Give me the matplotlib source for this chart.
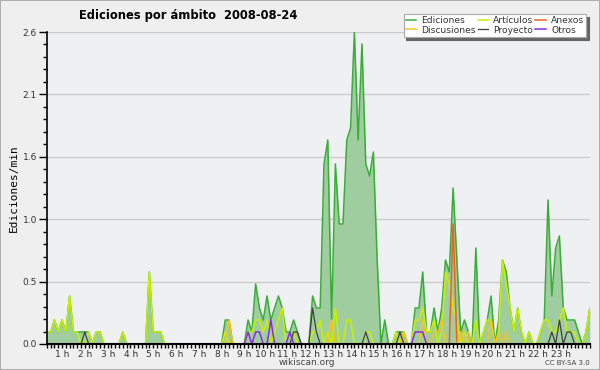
import numpy as np
import matplotlib
matplotlib.use('Agg')
import matplotlib.pyplot as plt
from matplotlib.patches import Rectangle

# edits per minute, one value per 10-minute slot (144 slots)
ediciones = [
    .1, .1, .2, .1, .2, .1, .4, .1, .1, .1, .1, .1,
    0, .1, .1, 0, 0, 0, 0, 0, .1, 0, 0, 0,
    0, 0, 0, .6, .1, .1, .1, 0, 0, 0, 0, 0,
    0, 0, 0, 0, 0, 0, 0, 0, 0, 0, 0, .2,
    .2, 0, 0, 0, 0, .2, .1, .5, .3, .2, .4, .2,
    .3, .4, .3, .1, .1, .2, .1, 0, 0, 0, .4, .3,
    .3, 1.5, 1.7, .2, 1.5, 1.0, 1.0, 1.7, 1.8, 2.6, 1.7, 2.5,
    1.5, 1.4, 1.6, .7, 0, .2, 0, 0, .1, .1, .1, 0,
    0, .3, .3, .6, .1, .1, .3, .1, .3, .7, .6, 1.3,
    .7, .1, .2, .1, 0, .8, 0, .1, .2, .4, 0, .2,
    .7, .6, .3, .1, .3, .1, 0, .1, 0, 0, .1, .2,
    1.2, .4, .8, .9, .3, .2, .2, .2, .1, 0, .1, .3]

articulos = [
    .1, .1, .2, .1, .2, .1, .4, .1, .1, 0, 0, .1,
    0, .1, .1, 0, 0, 0, 0, 0, .1, 0, 0, 0,
    0, 0, 0, .6, .1, .1, .1, 0, 0, 0, 0, 0,
    0, 0, 0, 0, 0, 0, 0, 0, 0, 0, 0, .1,
    0, 0, 0, 0, 0, .1, .1, .2, .2, .1, .2, 0,
    .1, .2, .3, 0, 0, .1, 0, 0, 0, 0, .1, .1,
    .2, 0, .1, 0, .3, 0, 0, .2, .2, 0, 0, 0,
    .1, .1, 0, 0, 0, 0, 0, 0, .1, 0, .1, 0,
    0, .2, .2, .3, .1, .1, .2, 0, .1, .6, .5, .3,
    .2, 0, .1, 0, 0, .2, 0, .1, .2, .2, 0, .1,
    .7, .5, .3, .1, .3, .1, 0, .1, 0, 0, .1, .2,
    .2, .1, .1, .2, .3, .1, .1, .1, 0, 0, .1, .3]

anexos = [0] * 144
anexos[107] = 1.0

discusiones = [
    0, 0, 0, 0, 0, 0, 0, 0, 0, 0, 0, 0,
    0, 0, 0, 0, 0, 0, 0, 0, 0, 0, 0, 0,
    0, 0, 0, 0, 0, 0, 0, 0, 0, 0, 0, 0,
    0, 0, 0, 0, 0, 0, 0, 0, 0, 0, 0, 0,
    .2, 0, 0, 0, 0, 0, 0, 0, 0, 0, 0, 0,
    0, 0, 0, 0, 0, 0, 0, 0, 0, 0, 0, 0,
    0, 0, 0, .2, 0, 0, 0, 0, 0, 0, 0, 0,
    0, 0, 0, 0, 0, 0, 0, 0, 0, 0, .1, 0,
    0, 0, 0, .2, 0, 0, .1, .1, .2, 0, 0, 0,
    0, .1, 0, .1, 0, 0, 0, 0, 0, .2, 0, .1,
    0, .1, 0, 0, 0, 0, 0, 0, 0, 0, 0, 0,
    0, 0, 0, 0, 0, 0, 0, 0, 0, 0, 0, 0]

proyecto = [
    0, 0, 0, 0, 0, 0, 0, 0, 0, 0, .1, 0,
    0, 0, 0, 0, 0, 0, 0, 0, 0, 0, 0, 0,
    0, 0, 0, 0, 0, 0, 0, 0, 0, 0, 0, 0,
    0, 0, 0, 0, 0, 0, 0, 0, 0, 0, 0, 0,
    0, 0, 0, 0, 0, 0, 0, 0, 0, 0, 0, 0,
    0, 0, 0, 0, 0, .1, .1, 0, 0, 0, .3, .1,
    0, 0, 0, 0, 0, 0, 0, 0, 0, 0, 0, 0,
    .1, 0, 0, 0, 0, 0, 0, 0, 0, .1, 0, 0,
    0, 0, 0, 0, 0, 0, 0, 0, 0, 0, 0, 0,
    0, 0, 0, 0, 0, 0, 0, 0, 0, 0, 0, 0,
    0, 0, 0, 0, 0, 0, 0, 0, 0, 0, 0, 0,
    0, .1, 0, .2, 0, .1, .1, 0, 0, 0, 0, 0]

otros = [0] * 144
for i, v in [(53, .1), (55, .1), (56, .1), (59, .2), (64, .1), (97, .1), (98, .1), (99, .1)]:
    otros[i] = v

hour_labels = ['%d h' % h for h in range(1, 24)]
y_ticks = [0, 0.52, 1.04, 1.56, 2.08, 2.6]
y_labels = ['0.0', '0.5', '1.0', '1.6', '2.1', '2.6']

x = np.arange(144)
bg = '#efefef'

fig = plt.figure(figsize=(6, 3.7), dpi=100, facecolor=bg)
ax = fig.add_axes([0.078, 0.0703, 0.905, 0.8432], facecolor='#eff0f2')

ax.fill_between(x, ediciones, color='#9fcd9f', lw=0)
ax.plot(x, ediciones, color='#38ad38', lw=1.1, label='Ediciones')
ax.plot(x, articulos, color='#c8f000', lw=1.1, label='Artículos')
ax.plot(x, anexos, color='#f06020', lw=1.1, label='Anexos')
ax.plot(x, discusiones, color='#f5c518', lw=1.1, label='Discusiones')
ax.plot(x, proyecto, color='#404040', lw=0.9, label='Proyecto')
ax.plot(x, otros, color='#8a2be2', lw=1.1, label='Otros')

ax.set_xlim(0, 143)
ax.set_ylim(0, 2.6)

ax.set_yticks(y_ticks)
ax.set_yticklabels(y_labels, fontsize=6.5, color='#333333')
ax.set_yticks(np.arange(0, 2.61, 0.104), minor=True)
ax.tick_params(axis='y', which='major', length=6, width=1, pad=1)
ax.tick_params(axis='y', which='minor', length=3, width=1)
ax.grid(axis='y', color='#cccccc', lw=1)
ax.set_axisbelow(True)

ax.set_xticks(np.arange(6, 144, 6))
ax.set_xticklabels(hour_labels, fontsize=6.5, color='#333333')
for lab in ax.get_xticklabels():
    lab.set_ha('right')
ax.set_xticks(np.arange(0, 144, 1), minor=True)
ax.tick_params(axis='x', which='both', length=3, width=1, pad=1)

for s in ['top', 'right']:
    ax.spines[s].set_visible(False)
ax.spines['bottom'].set_linewidth(1.5)
ax.spines['left'].set_linewidth(1.2)

ax.set_ylabel('Ediciones/min', family='DejaVu Sans Mono', fontsize=8, labelpad=3)

fig.text(0.313, 0.957, 'Ediciones por ámbito  2008-08-24', ha='center', va='center',
         fontsize=8.3, fontweight='bold')

h, l = ax.get_legend_handles_labels()
order = [0, 3, 1, 4, 2, 5]
leg = fig.legend([h[i] for i in order], [l[i] for i in order], ncol=3,
                 loc='upper right', bbox_to_anchor=(0.985, 0.975), fontsize=6.6,
                 handlelength=1.1, handletextpad=0.6, columnspacing=0.2,
                 labelspacing=0.05, borderpad=0.25, frameon=True, fancybox=False,
                 shadow={'color': '#666666', 'alpha': 1.0})
leg.get_frame().set_edgecolor('#aaaaaa')
leg.get_frame().set_linewidth(0.8)
for t in leg.get_texts():
    t.set_color('#333333')

fig.text(0.512, 0.02, 'wikiscan.org', ha='center', va='center', fontsize=6.5, color='#444444')
fig.text(0.983, 0.02, 'CC BY-SA 3.0', ha='right', va='center', fontsize=5, color='#444444')

fig.patches.append(Rectangle((0, 0), 1, 1, transform=fig.transFigure, fill=False,
                             edgecolor='#b0b0b0', lw=1.5))

fig.savefig('out.png', dpi=100, facecolor=bg)
